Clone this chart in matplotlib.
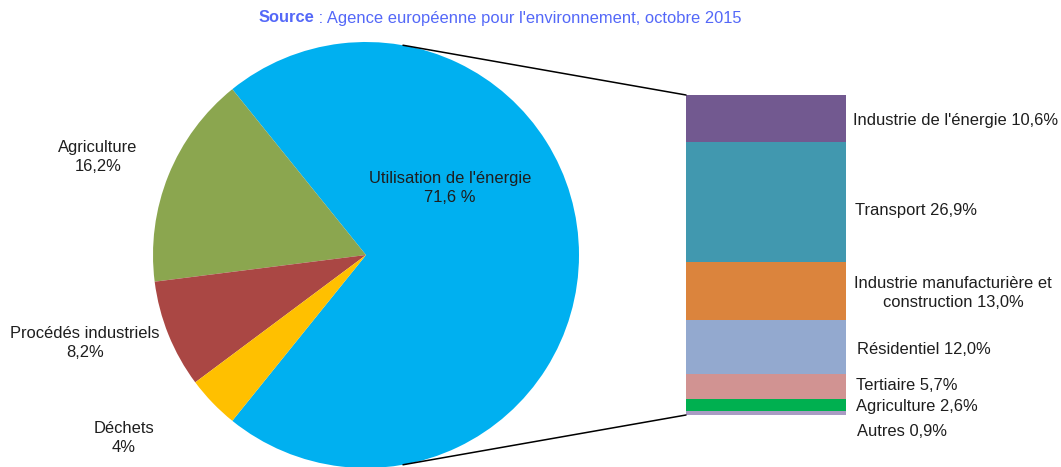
import matplotlib
matplotlib.use("Agg")
import matplotlib.pyplot as plt
from matplotlib.patches import ConnectionPatch
import numpy as np

# ---- data ----
pie_labels = ["Utilisation de l'énergie", "Agriculture", "Procédés industriels", "Déchets"]
pie_values = [71.6, 16.2, 8.2, 4.0]
pie_value_text = ["71,6 %", "16,2%", "8,2%", "4%"]
pie_colors = ["#00B0F0", "#8BA64F", "#AA4744", "#FFC000"]

bar_labels = ["Industrie de l'énergie", "Transport", "Industrie manufacturière et\nconstruction",
              "Résidentiel", "Tertiaire", "Agriculture", "Autres"]
bar_values = [10.6, 26.9, 13.0, 12.0, 5.7, 2.6, 0.9]
bar_value_text = ["10,6%", "26,9%", "13,0%", "12,0%", "5,7%", "2,6%", "0,9%"]
bar_colors = ["#725990", "#4198AF", "#DB843D", "#93A9CF", "#D19392", "#00B050", "#A99BC3"]

title_bold = "Source"
title_rest = " : Agence européenne pour l'environnement, octobre 2015"

FONT = "Liberation Sans"
FS = 11.9
TXT = "#1E1E1E"
LS = 1.28
plt.rcParams['font.family'] = [FONT, 'DejaVu Sans']

W, H = 1061, 467
fig = plt.figure(figsize=(W / 100, H / 100), dpi=100)

# pie axis in pixel-like data coordinates (y up)
ax = fig.add_axes([0, 0, 1, 1])
ax.set_xlim(0, W)
ax.set_ylim(0, H)
ax.set_aspect('equal')
ax.axis('off')

cx, cy, R = 366, H - 255, 213
start = -pie_values[0] / sum(pie_values) * 360 / 2
ax.pie(pie_values, colors=pie_colors, center=(cx, cy), radius=R, startangle=start,
       counterclock=True, wedgeprops=dict(linewidth=0), frame=True)
ax.set_xlim(0, W)
ax.set_ylim(0, H)
ax.axis('off')

# pie labels (pixel positions from top)
pie_label_pos = [(450, 188), (98, 157), (85, 343), (124, 438)]
for (lx, ly), lab, vt in zip(pie_label_pos, pie_labels, pie_value_text):
    ax.text(lx, H - ly, f"{lab}\n{vt}", ha='center', va='center', fontsize=FS,
            color=TXT, linespacing=LS)

# stacked bar (bar of pie)
bx0, bx1, by0, by1 = 686, 846, 95, 415
ax2 = fig.add_axes([bx0 / W, (H - by1) / H, (bx1 - bx0) / W, (by1 - by0) / H])
total = sum(bar_values)
bottoms = np.concatenate([[0], np.cumsum(bar_values)[:-1]])
ax2.bar([0] * len(bar_values), bar_values, bottom=bottoms, width=1.0,
        color=bar_colors, linewidth=0)
ax2.set_xlim(-0.5, 0.5)
ax2.set_ylim(total, 0)
ax2.axis('off')

# bar labels
bar_label_pos = [(853, 120, 'left'), (855, 211, 'left'), (953, 293, 'center'),
                 (857, 349, 'left'), (856, 385, 'left'), (856, 407, 'left'), (857, 432, 'left')]
for (lx, ly, ha), lab, vt in zip(bar_label_pos, bar_labels, bar_value_text):
    ax.text(lx, H - ly, f"{lab} {vt}", ha=ha, va='center', fontsize=FS,
            color=TXT, linespacing=LS)

# connector lines
theta = np.deg2rad(80)
for sgn, yb in [(1, 1), (-1, 0)]:
    p = (cx + R * np.cos(theta), cy + sgn * R * np.sin(theta))
    con = ConnectionPatch(xyA=p, coordsA=ax.transData, xyB=(0, yb), coordsB=ax2.transAxes,
                          color='black', linewidth=1.1)
    fig.add_artist(con)

# title
tcol = "#5468F8"
fig.canvas.draw()
r = fig.canvas.get_renderer()
t1 = fig.text(0, 0, title_bold, fontsize=FS, fontweight='bold', color=tcol)
t2 = fig.text(0, 0, title_rest, fontsize=FS, color=tcol)
w1 = t1.get_window_extent(r).width
w2 = t2.get_window_extent(r).width
x0 = 500 - (w1 + w2) / 2
ty = (H - 18) / H
t1.set_position((x0 / W, ty))
t1.set_va('center')
t2.set_position(((x0 + w1) / W, ty))
t2.set_va('center')

fig.savefig("out.png", dpi=100)
